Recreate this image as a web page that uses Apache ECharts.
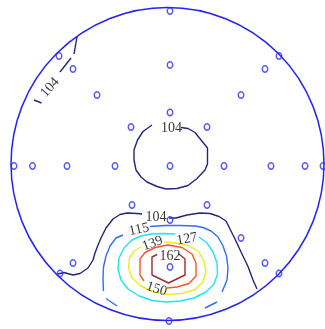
<!DOCTYPE html>
<html>
<head>
<meta charset="utf-8">
<script src="https://cdn.jsdelivr.net/npm/echarts/dist/echarts.min.js"></script>
<style>
  html, body { margin: 0; padding: 0; background: #ffffff; }
  #chart { width: 325px; height: 329px; }
</style>
</head>
<body>
<div id="chart"></div>
<script>
// Head outline: centre and radius in plot units (head-centred, y up)
const headCenter = [-0.5, 0];
const headRadius = 156.5;

// Sensor positions
const sensors = [
  [2, 153], [-109, 108], [-95, 95], [2, 99], [111, 108], [97, 95],
  [-71, 69], [73, 69], [2, 51.5], [-37, 37], [39, 37],
  [-154, -2], [-135.5, -2], [-101, -2], [-53, -2], [2, -2], [56, -2],
  [103, -2], [137, -2], [155, -2],
  [-36, -41], [39, -41], [2, -56], [73, -74], [-95, -99], [97, -99],
  [2, -103], [-108, -109.5], [111, -109.5], [1, -157]
];

// Isoline 104: closed loop around the centre
const iso104Middle = [
  [-16, 39], [-25, 32.5], [-30.5, 24], [-34, 14], [-34, 4], [-32, -6],
  [-27, -13], [-21, -18], [-11, -22.5], [-2, -25], [9, -24.5], [20, -21.5],
  [29, -14.5], [37, -6], [39.5, 0], [39.5, 16], [33, 24], [27, 31.5],
  [20, 35.5], [13, 36.5]
];
// Isoline 104: upper-left edge pieces
const iso104UpperLeftA = [[-91, 127], [-94, 110]];
const iso104UpperLeftB = [[-97, 106], [-108, 92]];
const iso104UpperLeftC = [[-126.5, 61], [-134, 64]];
// Isoline 104: lower arc, left and right of its label
const iso104LowerLeft = [
  [-110, -110], [-104, -108.5], [-95, -111], [-88, -109.5], [-80, -104],
  [-75, -96], [-73, -89], [-70, -81], [-67, -74], [-62, -64], [-55, -55],
  [-48, -50.5], [-41, -49], [-31, -49.5], [-26, -50]
];
const iso104LowerRight = [
  [1, -54], [8, -54], [19, -51], [32, -49], [42, -49.5], [51, -52.5],
  [58, -57], [62, -65], [67, -75], [73.5, -89], [80, -102.5], [85, -116],
  [89, -125]
];

// Isoline 115
const iso115Right = [
  [-18, -62.5], [-3, -61.5], [12, -61.5], [27, -62], [35, -63.5], [43, -67],
  [50, -73], [55, -82], [58.5, -92], [60, -104], [59, -116], [54, -128]
];
const iso115RightTail = [[49, -138], [37, -144]];
const iso115Left = [
  [-45, -71], [-52, -74], [-58, -82], [-62, -92], [-64.5, -103], [-65, -115],
  [-64.5, -127]
];
const iso115LeftTail = [[-62, -134.5], [-51, -142]];

// Isoline 127
const iso127 = [
  [31, -73], [39, -79], [45, -88], [49, -99], [49.5, -110], [46, -120],
  [38, -128], [26, -134], [12, -137], [-2, -138], [-16, -136.5], [-29, -132],
  [-40, -125], [-47, -116], [-50, -105], [-49, -94], [-44, -84], [-36, -76],
  [-27, -72], [-17, -70], [-5, -69.5], [7, -70]
];

// Isoline 139
const iso139 = [
  [-4, -78], [8, -79], [20, -81.5], [30, -87], [36, -97], [38, -108],
  [35, -118], [27, -125.5], [14, -129.5], [0, -130.5], [-14, -128],
  [-27, -122], [-36, -114], [-39.5, -104], [-38.5, -94], [-34, -87],
  [-27, -83]
];

// Isoline 150
const iso150 = [
  [-1, -124], [9, -123], [21, -119.5], [28, -112], [28, -99], [24, -90],
  [14, -83.5], [0, -81], [-13, -83.5], [-23, -88.5], [-28, -95], [-28, -111],
  [-24, -117]
];

// Isoline 162
const iso162 = [
  [-11, -90.5], [-16, -93], [-16, -111], [0.5, -119], [17, -111], [17, -95],
  [11, -90]
];

// Isoline labels: x, y, text, rotation (degrees)
const isoLabels = [
  [3.5, 36, '104', 0],
  [-118, 76.5, '104', 48],
  [-12, -53, '104', 0],
  [-29, -65.5, '115', 12],
  [19, -75, '127', 10],
  [-15.5, -79.5, '139', 20],
  [-11.5, -125, '150', -18],
  [2, -92, '162', 0]
];

const colors = {
  head: '#2323f5',
  sensor: '#2b2bff',
  c104: '#24247e',
  c115: '#2f6cff',
  c127: '#1ee3f2',
  c139: '#eded1c',
  c150: '#ff5424',
  c162: '#9f2a2a'
};

function isoSeries(points, color) {
  return {
    type: 'line',
    data: points,
    symbol: 'none',
    showSymbol: false,
    silent: true,
    z: 3,
    lineStyle: { color: color, width: 1.4 }
  };
}

const chart = echarts.init(document.getElementById('chart'));

chart.setOption({
  animation: false,
  backgroundColor: '#ffffff',
  grid: { left: 0, right: 0, top: 0, bottom: 0 },
  xAxis: { type: 'value', min: -168, max: 157, show: false },
  yAxis: { type: 'value', min: -165, max: 164, show: false },
  series: [
    {
      type: 'custom',
      silent: true,
      z: 2,
      data: [[headCenter[0], headCenter[1], headRadius]],
      renderItem: function (params, api) {
        const c = api.coord([api.value(0), api.value(1)]);
        const r = api.size([api.value(2), 0])[0];
        return {
          type: 'circle',
          shape: { cx: c[0], cy: c[1], r: r },
          style: { fill: 'none', stroke: colors.head, lineWidth: 1.5 }
        };
      }
    },
    isoSeries(iso104Middle, colors.c104),
    isoSeries(iso104UpperLeftA, colors.c104),
    isoSeries(iso104UpperLeftB, colors.c104),
    isoSeries(iso104UpperLeftC, colors.c104),
    isoSeries(iso104LowerLeft, colors.c104),
    isoSeries(iso104LowerRight, colors.c104),
    isoSeries(iso115Right, colors.c115),
    isoSeries(iso115RightTail, colors.c115),
    isoSeries(iso115Left, colors.c115),
    isoSeries(iso115LeftTail, colors.c115),
    isoSeries(iso127, colors.c127),
    isoSeries(iso139, colors.c139),
    isoSeries(iso150, colors.c150),
    isoSeries(iso162, colors.c162),
    {
      type: 'scatter',
      silent: true,
      z: 5,
      data: sensors,
      symbol: 'circle',
      symbolSize: [5.5, 6.5],
      itemStyle: { color: 'rgba(0,0,0,0)', borderColor: colors.sensor, borderWidth: 1.5 }
    },
    {
      type: 'scatter',
      silent: true,
      z: 6,
      symbolSize: 1,
      itemStyle: { color: 'rgba(255,255,255,0)' },
      data: isoLabels.map(function (d) {
        return { value: [d[0], d[1]], name: d[2], label: { rotate: d[3] } };
      }),
      label: {
        show: true,
        position: 'inside',
        formatter: function (p) { return p.name; },
        fontFamily: 'Liberation Serif',
        fontSize: 14,
        color: '#000000'
      }
    }
  ]
});
</script>
</body>
</html>
